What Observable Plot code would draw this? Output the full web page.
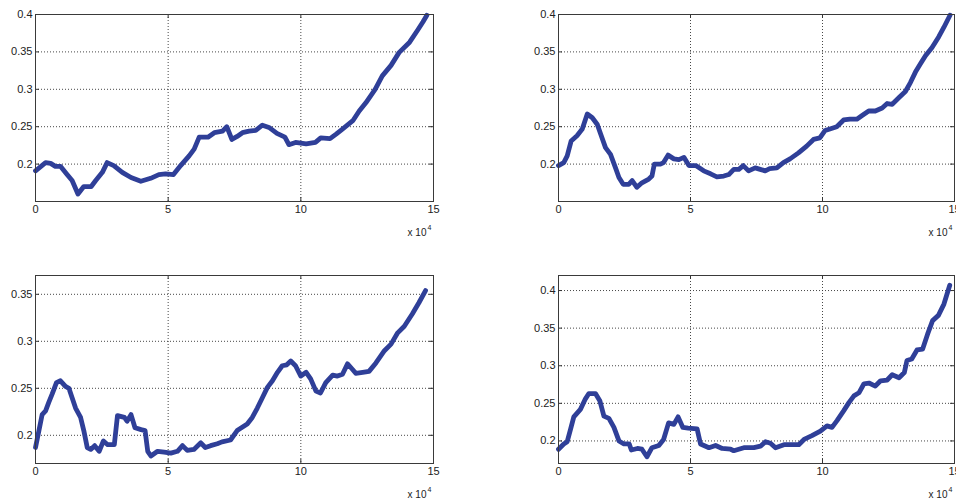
<!DOCTYPE html>
<html><head><meta charset="utf-8">
<script src="https://cdn.jsdelivr.net/npm/d3@7"></script>
<script src="https://cdn.jsdelivr.net/npm/@observablehq/plot@0.6"></script>
<style>
html,body{margin:0;padding:0;background:#fff;}
body{overflow:hidden;width:956px;height:501px;position:relative;}
.panel{position:absolute;}
</style></head><body>
<div id="p1" class="panel" style="left:0;top:0"></div>
<div id="p2" class="panel" style="left:478px;top:0"></div>
<div id="p3" class="panel" style="left:0;top:250px"></div>
<div id="p4" class="panel" style="left:478px;top:250px"></div>
<script>
// x in units of 10^4
const xTicks = [0, 5, 10, 15];
const xTickLabels = ["0", "5", "10", "15"];
const xExponentBase = "x 10";
const xExponent = "4";

const x1 = [0,0.38,0.57,0.75,0.94,1.19,1.38,1.6,1.82,2.1,2.27,2.52,2.7,2.95,3.27,3.6,3.97,4.34,4.65,4.9,5.2,5.47,5.79,5.98,6.17,6.5,6.74,7.05,7.21,7.4,7.6,7.8,8.05,8.3,8.55,8.8,9.1,9.4,9.55,9.8,10.2,10.55,10.75,11.1,11.33,11.58,11.96,12.2,12.45,12.8,13.07,13.4,13.7,14.1,14.4,14.6,14.75];
const y1 = [0.191,0.202,0.201,0.197,0.197,0.186,0.178,0.160,0.170,0.170,0.178,0.189,0.202,0.198,0.189,0.182,0.177,0.181,0.186,0.187,0.186,0.198,0.211,0.220,0.236,0.236,0.242,0.244,0.250,0.233,0.237,0.242,0.244,0.245,0.252,0.249,0.241,0.236,0.226,0.229,0.227,0.229,0.235,0.234,0.240,0.247,0.258,0.271,0.282,0.300,0.318,0.332,0.349,0.363,0.379,0.390,0.399];

const x2 = [0,0.2,0.33,0.48,0.7,0.9,1.09,1.28,1.47,1.6,1.78,1.97,2.16,2.29,2.45,2.66,2.79,2.97,3.16,3.42,3.54,3.63,3.86,3.98,4.15,4.37,4.56,4.75,4.94,5.2,5.5,5.76,6.0,6.26,6.45,6.64,6.83,7.0,7.2,7.45,7.64,7.83,8.0,8.27,8.52,8.77,9.09,9.4,9.66,9.9,10.1,10.28,10.54,10.8,11.04,11.3,11.5,11.75,12.0,12.26,12.45,12.64,12.9,13.14,13.33,13.52,13.71,13.9,14.15,14.4,14.6,14.83];
const y2 = [0.198,0.202,0.211,0.231,0.238,0.247,0.267,0.262,0.253,0.240,0.222,0.213,0.195,0.182,0.173,0.173,0.178,0.169,0.175,0.180,0.184,0.200,0.200,0.202,0.212,0.207,0.206,0.209,0.198,0.198,0.191,0.187,0.183,0.184,0.186,0.193,0.193,0.198,0.191,0.195,0.193,0.191,0.194,0.195,0.202,0.207,0.215,0.224,0.233,0.235,0.245,0.247,0.250,0.259,0.260,0.260,0.265,0.271,0.271,0.275,0.281,0.280,0.289,0.297,0.309,0.323,0.334,0.345,0.356,0.370,0.383,0.399];

const x3 = [0,0.13,0.25,0.38,0.5,0.63,0.79,0.94,1.13,1.26,1.38,1.51,1.7,1.82,1.95,2.08,2.23,2.4,2.56,2.72,2.97,3.09,3.35,3.45,3.6,3.75,3.98,4.13,4.23,4.35,4.6,4.85,5.1,5.35,5.54,5.72,5.97,6.23,6.4,6.6,6.85,7.03,7.35,7.6,7.98,8.17,8.36,8.55,8.74,8.93,9.12,9.3,9.47,9.62,9.8,10.0,10.2,10.37,10.57,10.74,10.94,11.2,11.38,11.57,11.76,11.95,12.07,12.33,12.57,12.83,13.15,13.4,13.65,13.9,14.2,14.45,14.7];
const y3 = [0.187,0.205,0.222,0.226,0.235,0.244,0.256,0.258,0.252,0.250,0.240,0.229,0.219,0.205,0.187,0.185,0.189,0.183,0.194,0.190,0.190,0.221,0.219,0.215,0.222,0.208,0.206,0.205,0.183,0.178,0.183,0.182,0.181,0.183,0.189,0.184,0.185,0.192,0.187,0.189,0.191,0.193,0.195,0.205,0.212,0.219,0.229,0.240,0.251,0.258,0.267,0.274,0.275,0.279,0.274,0.263,0.267,0.260,0.247,0.245,0.256,0.264,0.263,0.265,0.276,0.270,0.266,0.267,0.268,0.277,0.290,0.297,0.309,0.316,0.329,0.341,0.354];

const x4 = [0,0.2,0.33,0.46,0.58,0.83,1.02,1.15,1.4,1.57,1.72,1.91,2.1,2.29,2.48,2.68,2.76,2.99,3.16,3.35,3.54,3.8,3.98,4.17,4.37,4.53,4.71,4.91,5.25,5.38,5.7,5.95,6.2,6.52,6.64,7.02,7.4,7.65,7.84,8.03,8.22,8.54,8.85,9.1,9.3,9.6,9.92,10.17,10.36,10.55,10.8,11.0,11.19,11.38,11.57,11.76,12.0,12.2,12.45,12.64,12.9,13.1,13.2,13.38,13.58,13.79,13.98,14.17,14.39,14.6,14.82];
const y4 = [0.189,0.196,0.199,0.216,0.232,0.242,0.256,0.263,0.263,0.253,0.233,0.230,0.218,0.200,0.196,0.196,0.188,0.190,0.189,0.179,0.191,0.194,0.202,0.224,0.222,0.232,0.218,0.217,0.216,0.196,0.191,0.194,0.190,0.189,0.187,0.191,0.191,0.193,0.199,0.197,0.191,0.195,0.195,0.195,0.202,0.207,0.213,0.220,0.218,0.227,0.240,0.251,0.260,0.264,0.276,0.277,0.273,0.280,0.281,0.288,0.284,0.291,0.307,0.309,0.321,0.322,0.342,0.360,0.367,0.382,0.407];

const yTicks1 = [0.2, 0.25, 0.3, 0.35, 0.4];
const yTicks2 = [0.2, 0.25, 0.3, 0.35, 0.4];
const yTicks3 = [0.2, 0.25, 0.3, 0.35];
const yTicks4 = [0.2, 0.25, 0.3, 0.35, 0.4];
const yDomain1 = [0.15, 0.4];
const yDomain2 = [0.15, 0.4];
const yDomain3 = [0.17, 0.37];
const yDomain4 = [0.17, 0.42];

const LINE = "#2f3f98";
const FONT = "Liberation Sans, Arial, sans-serif";

function panel(el, xs, ys, yDomain, yTicks, m) {
  const data = xs.map((x, i) => ({x, y: ys[i]}));
  const iw = m.width - m.marginLeft - m.marginRight;
  const ih = m.height - m.marginTop - m.marginBottom;
  const p = Plot.plot({
    width: m.width, height: m.height,
    marginLeft: m.marginLeft, marginRight: m.marginRight,
    marginTop: m.marginTop, marginBottom: m.marginBottom,
    style: {fontFamily: FONT, fontSize: "11px", color: "#222", background: "#fff", overflow: "visible", maxWidth: "none"},
    x: {domain: [0, 15], ticks: xTicks},
    y: {domain: yDomain, ticks: yTicks},
    marks: [
      Plot.gridX(xTicks, {stroke: "#333", strokeOpacity: 0.9, strokeDasharray: "1,2"}),
      Plot.gridY(yTicks, {stroke: "#333", strokeOpacity: 0.9, strokeDasharray: "1,2"}),
      Plot.tickX(xTicks, {x: d => d, insetTop: ih - 4, stroke: "#333"}),
      Plot.tickX(xTicks, {x: d => d, insetBottom: ih - 4, stroke: "#333"}),
      Plot.tickY(yTicks, {y: d => d, insetRight: iw - 4, stroke: "#333"}),
      Plot.tickY(yTicks, {y: d => d, insetLeft: iw - 4, stroke: "#333"}),
      Plot.axisX(xTicks, {tickSize: 0, tickPadding: 4, tickFormat: d => xTickLabels[xTicks.indexOf(d)], label: null, fill: "#222"}),
      Plot.axisY(yTicks, {tickSize: 0, tickPadding: 3, tickFormat: d => String(d), label: null, fill: "#222"}),
      Plot.line(data, {x: "x", y: "y", stroke: LINE, strokeWidth: 4.8, strokeLinejoin: "round", strokeLinecap: "round"}),
      Plot.frame({stroke: "#3a3a3a"}),
      Plot.text([xExponentBase], {frameAnchor: "bottom-right", textAnchor: "end", lineAnchor: "middle", dx: -7, dy: 31, fontSize: 10, fill: "#222"}),
      Plot.text([xExponent], {frameAnchor: "bottom-right", textAnchor: "end", lineAnchor: "middle", dx: -2, dy: 26, fontSize: 7, fill: "#222"})
    ]
  });
  document.getElementById(el).appendChild(p);
}

const leftGeom = {width: 478, marginLeft: 35, marginRight: 45};
const rightGeom = {width: 490, marginLeft: 80, marginRight: 14};
const topGeom = {height: 250, marginTop: 14, marginBottom: 49};
const botGeom = {height: 250, marginTop: 25, marginBottom: 37};

panel("p1", x1, y1, yDomain1, yTicks1, {...leftGeom, ...topGeom});
panel("p2", x2, y2, yDomain2, yTicks2, {...rightGeom, ...topGeom});
panel("p3", x3, y3, yDomain3, yTicks3, {...leftGeom, ...botGeom});
panel("p4", x4, y4, yDomain4, yTicks4, {...rightGeom, ...botGeom});
</script>
</body></html>
